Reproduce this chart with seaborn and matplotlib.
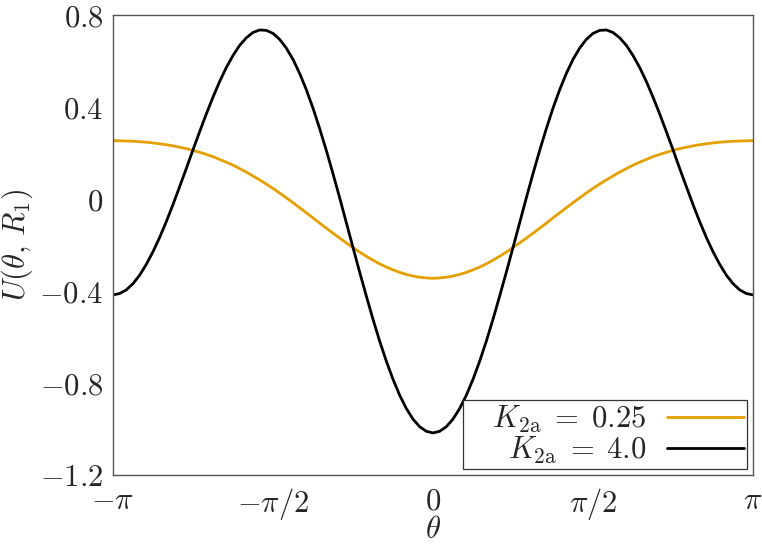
import numpy as np
import pandas as pd
import matplotlib
matplotlib.use("Agg")
import matplotlib.pyplot as plt
import seaborn as sns

# sampled on a regular grid from -pi to pi (97 points, step pi/48)
theta = np.linspace(-np.pi, np.pi, 97)

# K_2a = 0.25 (orange curve)
u_k025 = [0.254, 0.253, 0.252, 0.251, 0.249, 0.247, 0.244, 0.240, 0.236, 0.231,
          0.225, 0.219, 0.211, 0.203, 0.194, 0.184, 0.172, 0.160, 0.147, 0.132,
          0.117, 0.100, 0.083, 0.065, 0.046, 0.026, 0.005, -0.016, -0.038, -0.060,
          -0.082, -0.105, -0.127, -0.149, -0.170, -0.191, -0.211, -0.231, -0.249, -0.266,
          -0.282, -0.296, -0.308, -0.319, -0.328, -0.335, -0.340, -0.343, -0.345,
          -0.343, -0.340, -0.335, -0.328, -0.319, -0.308, -0.296, -0.282, -0.266, -0.249,
          -0.231, -0.211, -0.191, -0.170, -0.149, -0.127, -0.105, -0.082, -0.060, -0.038,
          -0.016, 0.005, 0.026, 0.046, 0.065, 0.083, 0.100, 0.117, 0.132, 0.147,
          0.160, 0.172, 0.184, 0.194, 0.203, 0.211, 0.219, 0.225, 0.231, 0.236,
          0.240, 0.244, 0.247, 0.249, 0.251, 0.252, 0.253, 0.254]

# K_2a = 4.0 (black curve)
u_k40 = [-0.417, -0.411, -0.395, -0.368, -0.331, -0.284, -0.229, -0.167, -0.098, -0.024,
         0.054, 0.133, 0.214, 0.293, 0.370, 0.443, 0.511, 0.572, 0.624, 0.668,
         0.701, 0.724, 0.735, 0.733, 0.720, 0.694, 0.656, 0.607, 0.546, 0.475,
         0.395, 0.306, 0.211, 0.110, 0.005, -0.103, -0.211, -0.318, -0.422, -0.523,
         -0.618, -0.705, -0.784, -0.853, -0.911, -0.957, -0.990, -1.010, -1.017,
         -1.010, -0.990, -0.957, -0.911, -0.853, -0.784, -0.705, -0.618, -0.523, -0.422,
         -0.318, -0.211, -0.103, 0.005, 0.110, 0.211, 0.306, 0.395, 0.475, 0.546,
         0.607, 0.656, 0.694, 0.720, 0.733, 0.735, 0.724, 0.701, 0.668, 0.624,
         0.572, 0.511, 0.443, 0.370, 0.293, 0.214, 0.133, 0.054, -0.024, -0.098,
         -0.167, -0.229, -0.284, -0.331, -0.368, -0.395, -0.411, -0.417]

labels = [r"$\quad K_{2\mathrm{a}}\;=\;0.25$", r"$K_{2\mathrm{a}}\;=\;4.0$"]
xticks = [-np.pi, -np.pi / 2, 0, np.pi / 2, np.pi]
xticklabels = [r"$-\pi$", r"$-\pi/2$", r"$0$", r"$\pi/2$", r"$\pi$"]
yticks = [-1.2, -0.8, -0.4, 0, 0.4, 0.8]
yticklabels = [r"$-1.2$", r"$-0.8$", r"$-0.4$", r"$0$", r"$0.4$", r"$0.8$"]

df = pd.concat([
    pd.DataFrame({"theta": theta, "U": u_k025, "K": labels[0]}),
    pd.DataFrame({"theta": theta, "U": u_k40, "K": labels[1]}),
])

sns.set_style("white")
plt.rcParams["mathtext.fontset"] = "cm"
plt.rcParams["font.family"] = ["DejaVu Sans"]

fs = 22
spine_col = "#555555"
fig = plt.figure(figsize=(7.62, 5.45), dpi=100)
ax = fig.add_axes([113 / 762, 70 / 545, 640 / 762, 460 / 545])

sns.lineplot(data=df, x="theta", y="U", hue="K", hue_order=labels,
             palette=["#E69F00", "black"], linewidth=2.0, ax=ax)

ax.set_xlim(-np.pi, np.pi)
ax.set_ylim(-1.2, 0.8)
ax.set_xticks(xticks)
ax.set_xticklabels(xticklabels)
ax.set_yticks(yticks)
ax.set_yticklabels(yticklabels)
ax.tick_params(direction="in", length=7, width=0.9, color=spine_col,
               labelsize=fs, top=False, right=False)
ax.tick_params(axis="y", pad=7)
ax.tick_params(axis="x", pad=8)
for s in ax.spines.values():
    s.set_color(spine_col)
    s.set_linewidth(1.0)

ax.set_xlabel(r"$\theta$", fontsize=fs)
ax.xaxis.set_label_coords(0.5, -0.088)
ax.set_ylabel(r"$U(\theta,\, R_1)$", fontsize=fs)
ax.yaxis.set_label_coords(-0.122, 0.5)

leg = ax.legend(loc="lower right", markerfirst=False, fancybox=False,
                framealpha=1, edgecolor="#333333", fontsize=fs,
                borderaxespad=0.2, borderpad=0.1, labelspacing=0.0,
                handlelength=2.5, handletextpad=0.7)
leg.get_frame().set_linewidth(0.9)
for line in leg.get_lines():
    line.set_linewidth(2.0)

fig.savefig("out.png", dpi=100)
